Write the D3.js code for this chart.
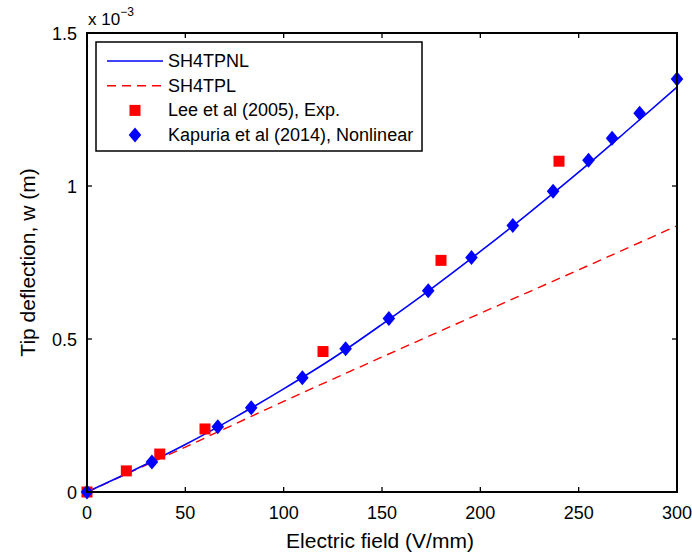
<!DOCTYPE html>
<html lang="en">
<head>
<meta charset="UTF-8">
<title>Tip deflection vs electric field</title>
<script src="https://d3js.org/d3.v7.min.js"></script>
<style>
    body { margin: 0; background: #fff; font-family: Arial, "Liberation Sans", sans-serif; }
    svg text { fill: #000; }
</style>
</head>
<body>
<svg width="692" height="560"></svg>
<script>
    // x = electric field (V/mm), y = tip deflection (x 1e-3 m)
    const nlX = [0, 25, 50, 75, 100, 125, 150, 175, 200, 225, 250, 275, 300];
    const nlY = [0, 0.075, 0.155, 0.243, 0.337, 0.437, 0.548, 0.664, 0.786, 0.913, 1.045, 1.183, 1.323];

    const linX = [0, 50, 100, 150, 200, 250, 300];
    const linY = [0, 0.147, 0.296, 0.441, 0.584, 0.726, 0.87];

    const leeX = [0, 20, 37, 60, 120, 180, 240];
    const leeY = [0, 0.069, 0.124, 0.206, 0.459, 0.757, 1.081];

    const kapX = [0, 33, 66.5, 83.5, 109.5, 131.5, 153.5, 173.5, 195.5, 216.5, 237, 255, 267, 281, 300];
    const kapY = [0, 0.098, 0.213, 0.275, 0.373, 0.468, 0.567, 0.658, 0.766, 0.871, 0.983, 1.084, 1.156, 1.238, 1.35];

    const xTicks = [0, 50, 100, 150, 200, 250, 300];
    const yTicks = [0, 0.5, 1, 1.5];

    const legendItems = [
        { label: "SH4TPNL", kind: "line", color: "#0000ff" },
        { label: "SH4TPL", kind: "dash", color: "#ff0000" },
        { label: "Lee et al (2005), Exp.", kind: "square", color: "#ff0000" },
        { label: "Kapuria et al (2014), Nonlinear", kind: "diamond", color: "#0000ff" }
    ];

    const svg = d3.select("svg");
    const pL = 87, pR = 677, pT = 33, pB = 492;

    const x = d3.scaleLinear().domain([0, 300]).range([pL, pR]);
    const y = d3.scaleLinear().domain([0, 1.5]).range([pB, pT]);

    // curves
    const line = d3.line().x(d => x(d[0])).y(d => y(d[1])).curve(d3.curveMonotoneX);

    svg.append("path")
        .datum(linX.map((v, i) => [v, linY[i]]))
        .attr("d", line)
        .attr("fill", "none")
        .attr("stroke", "#ff0000")
        .attr("stroke-width", 1.4)
        .attr("stroke-dasharray", "9,6");

    svg.append("path")
        .datum(nlX.map((v, i) => [v, nlY[i]]))
        .attr("d", line)
        .attr("fill", "none")
        .attr("stroke", "#0000ff")
        .attr("stroke-width", 1.6);

    // markers
    const sq = 11;
    svg.selectAll("rect.lee")
        .data(leeX.map((v, i) => [v, leeY[i]]))
        .enter().append("rect")
        .attr("class", "lee")
        .attr("x", d => x(d[0]) - sq / 2)
        .attr("y", d => y(d[1]) - sq / 2)
        .attr("width", sq)
        .attr("height", sq)
        .attr("fill", "#ff0000");

    const diamond = (cx, cy) => `M${cx},${cy - 7.5}L${cx + 6.3},${cy}L${cx},${cy + 7.5}L${cx - 6.3},${cy}Z`;
    svg.selectAll("path.kap")
        .data(kapX.map((v, i) => [v, kapY[i]]))
        .enter().append("path")
        .attr("class", "kap")
        .attr("d", d => diamond(x(d[0]), y(d[1])))
        .attr("fill", "#0000ff");

    // axes box
    svg.append("rect")
        .attr("x", pL).attr("y", pT)
        .attr("width", pR - pL).attr("height", pB - pT)
        .attr("fill", "none").attr("stroke", "#000").attr("stroke-width", 2);

    const tickLen = 5;
    xTicks.forEach(t => {
        svg.append("line").attr("x1", x(t)).attr("x2", x(t))
            .attr("y1", pB).attr("y2", pB - tickLen).attr("stroke", "#000").attr("stroke-width", 1.3);
        svg.append("line").attr("x1", x(t)).attr("x2", x(t))
            .attr("y1", pT).attr("y2", pT + tickLen).attr("stroke", "#000").attr("stroke-width", 1.3);
        svg.append("text").attr("x", x(t)).attr("y", pB + 27)
            .attr("text-anchor", "middle").attr("font-size", 18).text(t);
    });
    yTicks.forEach(t => {
        svg.append("line").attr("x1", pL).attr("x2", pL + tickLen)
            .attr("y1", y(t)).attr("y2", y(t)).attr("stroke", "#000").attr("stroke-width", 1.3);
        svg.append("line").attr("x1", pR).attr("x2", pR - tickLen)
            .attr("y1", y(t)).attr("y2", y(t)).attr("stroke", "#000").attr("stroke-width", 1.3);
        svg.append("text").attr("x", pL - 10).attr("y", y(t) + 6.5)
            .attr("text-anchor", "end").attr("font-size", 18).text(t);
    });

    // exponent label
    const ex = svg.append("text").attr("x", pL + 1).attr("y", 25).attr("font-size", 17);
    ex.append("tspan").text("x 10");
    ex.append("tspan").attr("font-size", 12).attr("dy", -9).text("\u22123");

    // axis titles
    svg.append("text").attr("x", (pL + pR) / 2 - 2).attr("y", 548)
        .attr("text-anchor", "middle").attr("font-size", 21).text("Electric field (V/mm)");
    svg.append("text")
        .attr("transform", `translate(35,${(pT + pB) / 2}) rotate(-90)`)
        .attr("text-anchor", "middle").attr("font-size", 21).text("Tip deflection, w (m)");

    // legend
    const lg = svg.append("g");
    lg.append("rect").attr("x", 96).attr("y", 42).attr("width", 326).attr("height", 109)
        .attr("fill", "#fff").attr("stroke", "#000").attr("stroke-width", 1.5);
    legendItems.forEach((it, i) => {
        const cy = 61 + i * 24.7;
        if (it.kind === "line" || it.kind === "dash") {
            lg.append("line").attr("x1", 107).attr("x2", 163).attr("y1", cy).attr("y2", cy)
                .attr("stroke", it.color).attr("stroke-width", 1.5)
                .attr("stroke-dasharray", it.kind === "dash" ? "9,6" : null);
        } else if (it.kind === "square") {
            lg.append("rect").attr("x", 135 - sq / 2).attr("y", cy - sq / 2)
                .attr("width", sq).attr("height", sq).attr("fill", it.color);
        } else {
            lg.append("path").attr("d", diamond(135, cy)).attr("fill", it.color);
        }
        lg.append("text").attr("x", 168).attr("y", cy + 6).attr("font-size", 18).text(it.label);
    });
</script>
</body>
</html>
